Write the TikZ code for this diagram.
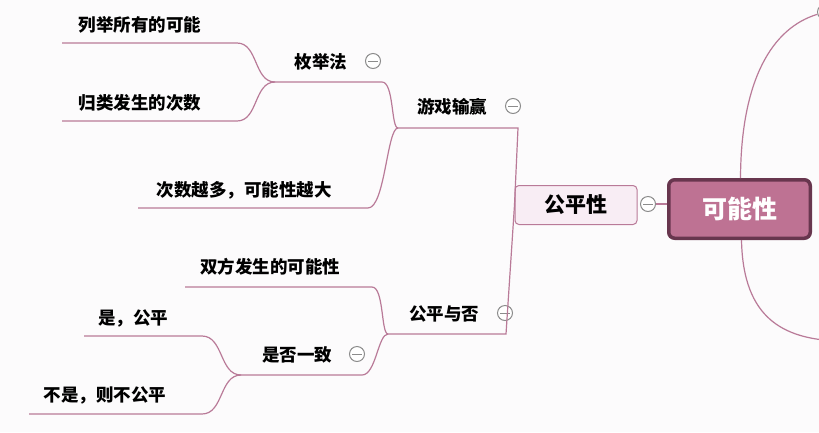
\documentclass[tikz,border=0pt]{standalone}
\usepackage{fontspec}
\newfontfamily\cjk{Noto Sans CJK SC}
\usetikzlibrary{positioning}
\definecolor{branch}{RGB}{185,122,152}
\definecolor{rootfill}{RGB}{190,114,147}
\definecolor{rootdraw}{RGB}{104,54,78}
\definecolor{mainfill}{RGB}{248,237,244}
\definecolor{bg}{RGB}{252,251,252}
\tikzset {
  % text of the small topics
  topic/.style = {font=\cjk\bfseries\fontsize{17.5}{20}\selectfont, inner sep=0pt},
  % centre topic and main topic
  root/.style = {draw=rootdraw, fill=rootfill, line width=3.5pt, rounded corners=6pt,
    text=white, minimum width=141.5pt, minimum height=58.5pt,
    font=\cjk\bfseries\fontsize{25}{28}\selectfont},
  main/.style = {draw=branch, fill=mainfill, line width=1pt, rounded corners=4pt,
    minimum width=122pt, minimum height=39pt, font=\cjk\bfseries\fontsize{21}{24}\selectfont},
  % collapse markers
  fold/.style = {draw=gray!90, fill=white, circle, line width=1pt, minimum size=15pt, inner sep=0pt,
    path picture={\draw[gray!90, line width=1pt] ([xshift=-5pt]path picture bounding box.center)
      -- ([xshift=5pt]path picture bounding box.center);}},
  link/.style = {draw=branch, line width=1.2pt},
}
\begin{document}
\begin{tikzpicture}[x=1pt, y=-1pt]
  \useasboundingbox (0,0) rectangle (819,432);
  \clip (0,0) rectangle (819,432);
  \fill[bg] (0,0) rectangle (819,432);

  \node[root] (kn) at (739.5,209) {可能性};
  \node[main] (gp) at (576,205) {公平性};
  \node[fold] (f0) at (648,204) {};
  \node[fold] (f9) at (825,12) {};
  \coordinate (off) at (835,341);

  \node[topic] (yx) at (452,107) {游戏输赢};
  \node[fold] (f1) at (513,106) {};
  \node[topic] (mj) at (321,62) {枚举法};
  \node[fold] (f2) at (373,61) {};
  \node[topic] (lj) at (140,25) {列举所有的可能};
  \node[topic] (gl) at (140,103) {归类发生的次数};
  \node[topic] (cs) at (244,190) {次数越多，可能性越大};

  \node[topic] (gf) at (444,314) {公平与否};
  \node[fold] (f3) at (505,313) {};
  \node[topic] (sf) at (270,267) {双方发生的可能性};
  \node[topic] (yz) at (297,355) {是否一致};
  \node[fold] (f4) at (357,354) {};
  \node[topic] (s1) at (133,318) {是，公平};
  \node[topic] (s2) at (105,395) {不是，则不公平};

  % underlines and junctions
  \coordinate (j1) at (398,128);
  \coordinate (j2) at (275,82);
  \coordinate (j3) at (388,334);
  \coordinate (j4) at (241,375);

  \draw[link] (f0) -- (f0.east -| kn.west);
  \draw[link] ([xshift=1pt]kn.north) .. controls (741,80) and (772,28) .. (f9);
  \draw[link] ([xshift=2pt]kn.south) .. controls (743,320) and (785,338) .. (off);

  \draw[link] (gp.west) -- (518,128) -- (j1);
  \draw[link] (gp.west) -- (506,334) -- (j3);

  \draw[link] (j2) -- (382,82) .. controls (394,82) and (391,128) .. (j1);
  \draw[link] (138,208) -- (368,208) .. controls (385,208) and (387,128) .. (j1);
  \draw[link] (62,43) -- (237,43) to[out=0, in=180] (j2);
  \draw[link] (62,121) -- (237,121) to[out=0, in=180] (j2);

  \draw[link] (185,287) -- (372,287) .. controls (384,287) and (381,334) .. (j3);
  \draw[link] (j4) -- (362,375) .. controls (376,375) and (378,334) .. (j3);
  \draw[link] (84,336) -- (202,336) to[out=0, in=180] (j4);
  \draw[link] (29,414) -- (202,414) to[out=0, in=180] (j4);
\end{tikzpicture}
\end{document}
